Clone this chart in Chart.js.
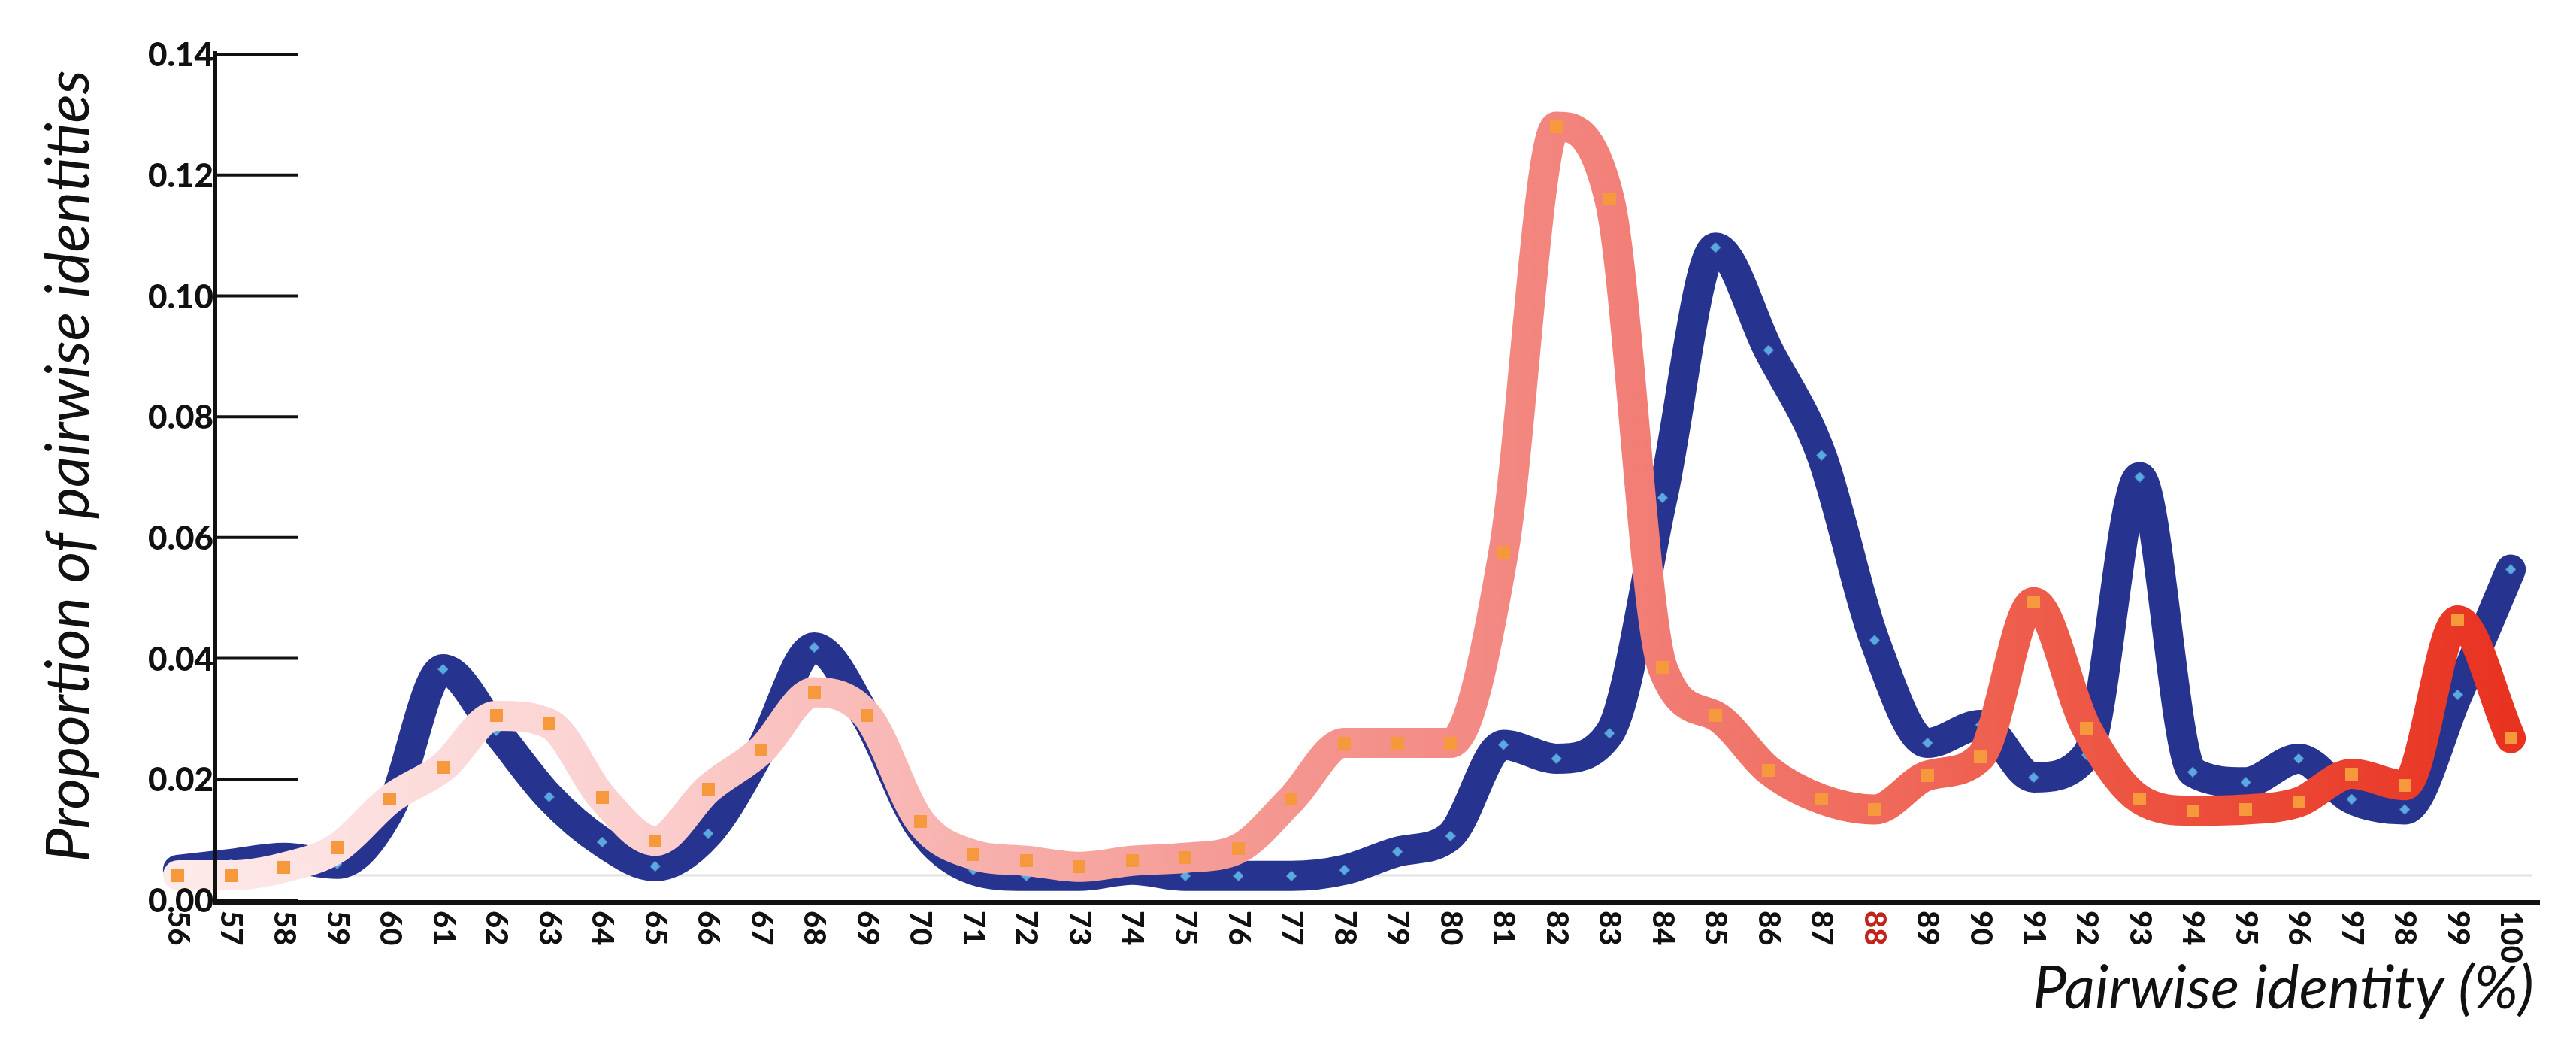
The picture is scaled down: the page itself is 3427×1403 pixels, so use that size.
<!DOCTYPE html>
<html><head><meta charset="utf-8">
<script src="https://cdn.jsdelivr.net/npm/chart.js@4"></script>
<style>html,body{margin:0;padding:0;background:#fff}#c{display:block}</style>
</head><body>
<canvas id="c" width="3427" height="1403"></canvas>
<script>
const identities = [56,57,58,59,60,61,62,63,64,65,66,67,68,69,70,71,72,73,74,75,76,77,78,79,80,81,82,83,84,85,86,87,88,89,90,91,92,93,94,95,96,97,98,99,100];
const blueSeries = [0.005,0.006,0.007,0.006,0.015,0.0382,0.028,0.0171,0.0096,0.0056,0.011,0.025,0.0418,0.030,0.012,0.005,0.004,0.004,0.005,0.004,0.004,0.004,0.005,0.008,0.0106,0.0257,0.0234,0.0276,0.0666,0.108,0.091,0.0736,0.043,0.026,0.0290,0.0203,0.024,0.070,0.0212,0.0195,0.0234,0.0167,0.015,0.034,0.0547];
const pinkSeries = [0.0041,0.0041,0.0054,0.0086,0.0167,0.022,0.0305,0.0292,0.017,0.0098,0.0184,0.0248,0.0344,0.0305,0.013,0.0075,0.0065,0.0055,0.0065,0.007,0.0085,0.0167,0.026,0.026,0.026,0.0575,0.128,0.116,0.0385,0.0305,0.0215,0.0167,0.015,0.0206,0.0237,0.0493,0.0284,0.0167,0.0148,0.015,0.0162,0.0209,0.019,0.0463,0.0268];
const yTicks = [0,0.02,0.04,0.06,0.08,0.10,0.12,0.14];
const baselineValue = 0.0041;

const ctx = document.getElementById('c').getContext('2d');
function diamond(){const s=14,c=document.createElement('canvas');c.width=c.height=s;const g=c.getContext('2d');g.fillStyle='#5aa9e0';g.beginPath();g.moveTo(s/2,0);g.lineTo(s,s/2);g.lineTo(s/2,s);g.lineTo(0,s/2);g.closePath();g.fill();return c;}
function square(){const s=17,c=document.createElement('canvas');c.width=c.height=s;const g=c.getContext('2d');g.fillStyle='#f5993c';g.fillRect(0,0,s,s);return c;}
const dia=diamond(), sq=square();

const decor = {
  id:'decor',
  beforeDatasetsDraw(chart){
    const {ctx,chartArea:a,scales:{x,y}}=chart;
    const axisX=a.left+86;
    ctx.save();
    ctx.strokeStyle='#e2e2e2';ctx.lineWidth=3;
    const by=y.getPixelForValue(baselineValue);
    ctx.beginPath();ctx.moveTo(axisX,by);ctx.lineTo(a.right-10,by);ctx.stroke();
    ctx.restore();
  },
  afterDatasetsDraw(chart){
    const {ctx,chartArea:a,scales:{x,y}}=chart;
    const axisX=a.left+86;
    ctx.save();
    ctx.strokeStyle='#111';ctx.lineWidth=6;
    ctx.beginPath();ctx.moveTo(axisX,y.getPixelForValue(0.14)-4);ctx.lineTo(axisX,y.getPixelForValue(0)+3);ctx.lineTo(a.right,y.getPixelForValue(0)+3);ctx.stroke();
    ctx.lineWidth=4;
    ctx.font='900 44px "Lato"';ctx.fillStyle='#111';ctx.textAlign='right';ctx.textBaseline='middle';
    yTicks.forEach(v=>{const py=y.getPixelForValue(v);
      ctx.beginPath();ctx.moveTo(axisX,py);ctx.lineTo(axisX+110,py);ctx.stroke();
      ctx.fillText(v.toFixed(2),axisX-2,py+2);});
    ctx.font='900 40px "Lato"';ctx.textAlign='left';ctx.textBaseline='middle';
    identities.forEach(v=>{const px=x.getPixelForValue(v);
      ctx.save();ctx.translate(px,y.getPixelForValue(0)+14);ctx.rotate(Math.PI/2);
      ctx.fillStyle = v===88 ? '#c0241c' : '#111';
      ctx.fillText(String(v),0,0);ctx.restore();});
    ctx.fillStyle='#111';ctx.font='italic 80px "Lato"';
    ctx.textAlign='right';ctx.textBaseline='middle';
    ctx.fillText('Pairwise identity (%)',a.right-8,1315);
    ctx.save();ctx.translate(92,620);ctx.rotate(-Math.PI/2);ctx.textAlign='center';
    ctx.fillText('Proportion of pairwise identities',0,0);ctx.restore();
    ctx.restore();
  }
};

function pinkGradient(c){
  const a=c.chart.chartArea; if(!a) return '#f08a85';
  const g=c.chart.ctx.createLinearGradient(a.left,0,a.right,0);
  g.addColorStop(0,'#fdeceb');g.addColorStop(0.2,'#fbd0cf');g.addColorStop(0.45,'#f59a94');
  g.addColorStop(0.6,'#f2837c');g.addColorStop(0.8,'#ee5a48');g.addColorStop(1,'#e8301e');
  return g;
}

new Chart(ctx,{
  type:'line',
  data:{datasets:[
    {label:'blue',data:identities.map((v,i)=>({x:v,y:blueSeries[i]})),borderColor:'#27348f',borderWidth:40,
     cubicInterpolationMode:'monotone',pointStyle:dia,pointRadius:7,clip:false,borderCapStyle:'round',borderJoinStyle:'round',order:2},
    {label:'pink',data:identities.map((v,i)=>({x:v,y:pinkSeries[i]})),borderColor:pinkGradient,borderWidth:40,
     cubicInterpolationMode:'monotone',pointStyle:sq,pointRadius:8,clip:false,borderCapStyle:'round',borderJoinStyle:'round',order:1}
  ]},
  options:{responsive:false,animation:false,devicePixelRatio:1,
    layout:{padding:{left:200,right:33,top:72,bottom:206}},
    plugins:{legend:{display:false},tooltip:{enabled:false}},
    scales:{
      x:{type:'linear',min:55.478,max:100.55,display:false},
      y:{min:0,max:0.14,display:false}
    }},
  plugins:[decor]
});
</script>
</body></html>
